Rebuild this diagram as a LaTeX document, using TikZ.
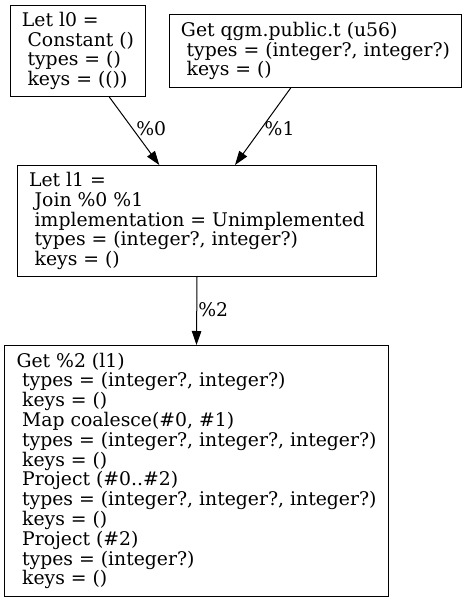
\documentclass[tikz,border=0pt]{standalone}
\usepackage{fontspec}
\setmainfont{DejaVu Serif}
\usetikzlibrary{arrows.meta,calc}
\newcommand{\ind}{\hspace*{0.3em}}
\begin{document}
\begin{tikzpicture}[x=1pt,y=-1pt,
  txt/.style={font=\fontsize{18.8}{19.8}\selectfont},
  box/.style={txt, draw=black, line width=1pt, rectangle, inner sep=0pt, align=left},
  edge/.style={line width=1pt, -{Triangle[length=14pt,width=9.5pt]}},
  elabel/.style={txt, inner sep=0pt}]
\useasboundingbox (0,0) rectangle (467,603);
\fill[white] (0,0) rectangle (467,603);
\node[box, minimum width=135pt, minimum height=91pt] (l0) at (78,51)
  {Let l0 =\\ \ind Constant ()\\ \ind types = ()\\ \ind keys = (())};
\node[box, minimum width=292pt, minimum height=73pt] (get) at (315.5,51)
  {Get qgm.public.t (u56)\\ \ind types = (integer?, integer?)\\ \ind keys = ()};
\node[box, minimum width=359pt, minimum height=111pt] (l1) at (197,221)
  {Let l1 =\\ \ind Join \%0 \%1\\ \ind implementation = Unimplemented\\ \ind types = (integer?, integer?)\\ \ind keys = ()};
\node[box, minimum width=384pt, minimum height=251pt] (out) at (196.5,471)
  {Get \%2 (l1)\\ \ind types = (integer?, integer?)\\ \ind keys = ()\\ \ind Map coalesce(\#0, \#1)\\ \ind types = (integer?, integer?, integer?)\\ \ind keys = ()\\ \ind Project (\#0..\#2)\\ \ind types = (integer?, integer?, integer?)\\ \ind keys = ()\\ \ind Project (\#2)\\ \ind types = (integer?)\\ \ind keys = ()};
\draw[edge] ($(l0.south)+(31.3,0)$) -- node[elabel, right=3pt, pos=0.47] (e0) {\%0} ($(l1.north)+(-37.7,0)$);
\draw[edge] ($(get.south)+(-24.8,0)$) -- node[elabel, right=3pt, pos=0.53] (e1) {\%1} ($(l1.north)+(38,0)$);
\draw[edge] (l1.south) -- node[elabel, right=1pt, pos=0.48] (e2) {\%2} (out.north);
\end{tikzpicture}
\end{document}
